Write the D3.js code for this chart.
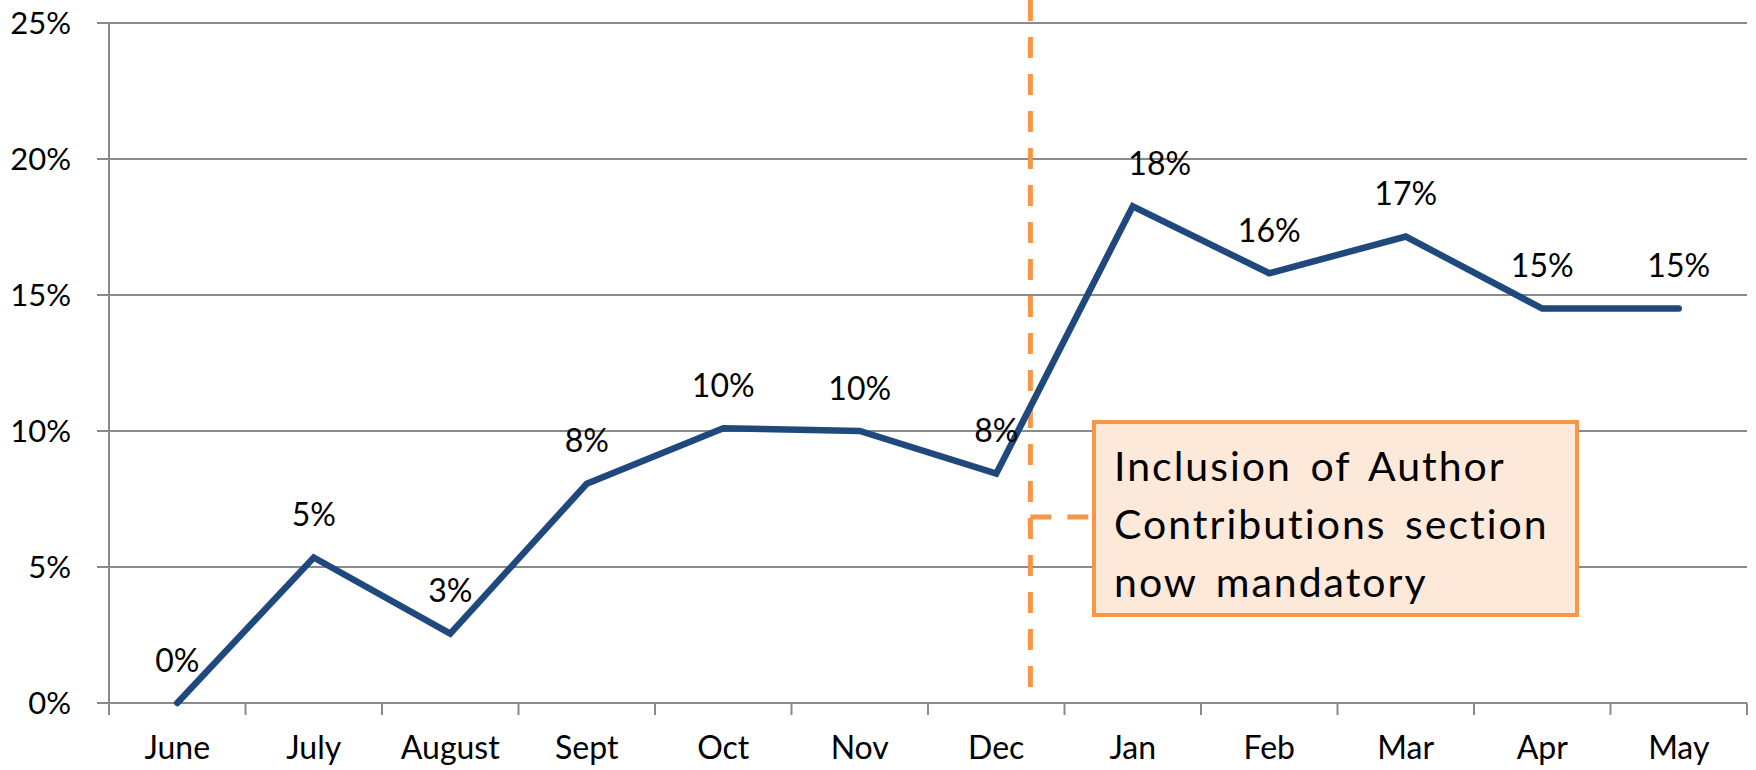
<!DOCTYPE html>
<html>
<head>
<meta charset="utf-8">
<script src="https://cdn.jsdelivr.net/npm/d3@7"></script>
<style>
  body { margin: 0; background: #fff; }
  text { font-family: Lato, "Open Sans", sans-serif; fill: #000; }
</style>
</head>
<body>
<div id="chart"></div>
<script>
var months = ["June", "July", "August", "Sept", "Oct", "Nov", "Dec", "Jan", "Feb", "Mar", "Apr", "May"];
var values = [0.0, 0.0535, 0.0255, 0.0806, 0.101, 0.100, 0.0843, 0.1826, 0.158, 0.1715, 0.145, 0.145];
var labels = ["0%", "5%", "3%", "8%", "10%", "10%", "8%", "18%", "16%", "17%", "15%", "15%"];
var yTicks = [0, 0.05, 0.10, 0.15, 0.20, 0.25];
var noteLines = ["Inclusion of Author", "Contributions section", "now mandatory"];

var width = 1756,
    height = 770,
    plotLeft = 109,
    plotRight = 1747,
    plotTop = 23,
    plotBottom = 703,
    tickLen = 12,
    gridColor = "#8a8a8a",
    lineColor = "#1f497d",
    orange = "#f79646";

var svg = d3.select("#chart").append("svg")
    .attr("width", width)
    .attr("height", height);

var x = d3.scaleBand().domain(months).range([plotLeft, plotRight]).padding(0);
var y = d3.scaleLinear().domain([0, 0.25]).range([plotBottom, plotTop]);
var cx = function(d) { return x(d) + x.bandwidth() / 2; };

// gridlines + y ticks
svg.append("g").selectAll("line")
    .data(yTicks)
    .enter().append("line")
    .attr("x1", plotLeft - tickLen)
    .attr("x2", plotRight)
    .attr("y1", function(d) { return y(d); })
    .attr("y2", function(d) { return y(d); })
    .attr("stroke", gridColor)
    .attr("stroke-width", 2);

svg.append("g").selectAll("text")
    .data(yTicks)
    .enter().append("text")
    .attr("x", 71)
    .attr("y", function(d) { return y(d); })
    .attr("dy", ".36em")
    .attr("text-anchor", "end")
    .style("font-size", "31px")
    .text(d3.format(".0%"));

// y axis line
svg.append("line")
    .attr("x1", plotLeft).attr("x2", plotLeft)
    .attr("y1", plotTop).attr("y2", plotBottom)
    .attr("stroke", gridColor)
    .attr("stroke-width", 2);

// x ticks at band edges
var edges = months.map(function(d) { return x(d); }).concat([plotRight]);
svg.append("g").selectAll("line")
    .data(edges)
    .enter().append("line")
    .attr("x1", function(d) { return d; })
    .attr("x2", function(d) { return d; })
    .attr("y1", plotBottom)
    .attr("y2", plotBottom + tickLen)
    .attr("stroke", gridColor)
    .attr("stroke-width", 2);

svg.append("g").selectAll("text")
    .data(months)
    .enter().append("text")
    .attr("x", cx)
    .attr("y", 747)
    .attr("dy", ".36em")
    .attr("text-anchor", "middle")
    .style("font-size", "32px")
    .text(function(d) { return d; });

// annotation: dashed marker between Dec and Jan
var markX = x("Dec") + x.bandwidth() * 0.75,
    boxX = 1094, boxY = 422, boxW = 483, boxH = 193,
    linkY = 517;

svg.append("line")
    .attr("x1", markX).attr("x2", markX)
    .attr("y1", 0).attr("y2", plotBottom)
    .attr("stroke", orange)
    .attr("stroke-width", 5)
    .attr("stroke-dasharray", "21,16");

svg.append("line")
    .attr("x1", markX).attr("x2", boxX)
    .attr("y1", linkY).attr("y2", linkY)
    .attr("stroke", orange)
    .attr("stroke-width", 5)
    .attr("stroke-dasharray", "21,16");

// series line
var line = d3.line()
    .x(function(d, i) { return cx(months[i]); })
    .y(function(d) { return y(d); });

svg.append("path")
    .datum(values)
    .attr("d", line)
    .attr("fill", "none")
    .attr("stroke", lineColor)
    .attr("stroke-width", 6.5)
    .attr("stroke-linecap", "round")
    .attr("stroke-linejoin", "miter");

// data labels
svg.append("g").selectAll("text")
    .data(values)
    .enter().append("text")
    .attr("x", function(d, i) { return cx(months[i]) + (months[i] == "Jan" ? 27 : 0); })
    .attr("y", function(d) { return y(d) - 43; })
    .attr("dy", ".36em")
    .attr("text-anchor", "middle")
    .style("font-size", "32px")
    .text(function(d, i) { return labels[i]; });

// note box
svg.append("rect")
    .attr("x", boxX).attr("y", boxY)
    .attr("width", boxW).attr("height", boxH)
    .attr("fill", "#fde9d9")
    .attr("stroke", orange)
    .attr("stroke-width", 4);

svg.append("g").selectAll("text")
    .data(noteLines)
    .enter().append("text")
    .attr("x", boxX + 20)
    .attr("y", function(d, i) { return boxY + 44 + i * 58; })
    .attr("dy", ".36em")
    .style("font-size", "41px")
    .style("letter-spacing", "2px")
    .style("word-spacing", "6px")
    .text(function(d) { return d; });
</script>
</body>
</html>
